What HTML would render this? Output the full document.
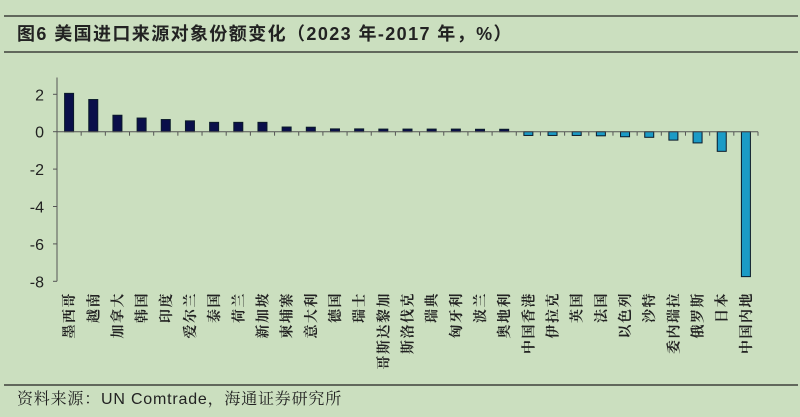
<!DOCTYPE html>
<html><head><meta charset="utf-8"><style>
html,body{margin:0;padding:0;background:#cbdfbf;}
svg{display:block;}
</style></head><body>
<svg width="800" height="417" viewBox="0 0 800 417" xmlns="http://www.w3.org/2000/svg">
<rect width="800" height="417" fill="#cbdfbf"/>
<line x1="4" y1="16" x2="798" y2="16" stroke="#222" stroke-width="1.3"/>
<text x="17" y="40" font-family="Liberation Sans, Noto Sans CJK SC, sans-serif" font-size="18" font-weight="bold" letter-spacing="1.4" fill="#222">图6  美国进口来源对象份额变化（2023 年-2017 年，%）</text>
<line x1="4" y1="52" x2="798" y2="52" stroke="#222" stroke-width="1.3"/>
<g id="plot"></g>
<line x1="4" y1="385" x2="798" y2="385" stroke="#222" stroke-width="1.3"/>
<text x="17" y="404" font-family="Liberation Sans, Noto Serif CJK SC, sans-serif" font-size="16" letter-spacing="0.8" fill="#222">资料来源：UN Comtrade，海通证券研究所</text>
</svg>
<script>
const categories = ["墨西哥","越南","加拿大","韩国","印度","爱尔兰","泰国","荷兰","新加坡","柬埔寨","意大利","德国","瑞士","哥斯达黎加","斯洛伐克","瑞典","匈牙利","波兰","奥地利","中国香港","伊拉克","英国","法国","以色列","沙特","委内瑞拉","俄罗斯","日本","中国内地"];
const values = [2.05,1.72,0.88,0.73,0.65,0.58,0.5,0.5,0.5,0.25,0.24,0.15,0.15,0.14,0.14,0.14,0.14,0.13,0.13,-0.2,-0.2,-0.2,-0.22,-0.27,-0.3,-0.45,-0.6,-1.05,-7.75];
const yTicks = [2,0,-2,-4,-6,-8];

const NS="http://www.w3.org/2000/svg";
const g=document.getElementById('plot');
const left=57, right=758, y0px=131.7, unit=18.7;
const step=(right-left)/categories.length;
const y=v=>y0px-v*unit;
const x=i=>left+step*(i+0.5);
function mk(t,a){const e=document.createElementNS(NS,t);for(const k in a)e.setAttribute(k,a[k]);g.appendChild(e);return e;}
let ax=mk('line',{x1:left,y1:y(2.9),x2:left,y2:y(-8),stroke:'#555','stroke-width':1});


yTicks.forEach(t=>{
  let tk=mk('line',{x1:left-4,y1:y(t),x2:left,y2:y(t),stroke:'#555'});
  
  
  let lb=mk('text',{x:left-13,y:y(t)+6,'text-anchor':'end','font-family':'Liberation Sans, sans-serif','font-size':16,fill:'#222'});
  lb.textContent=t;
  
  
});
values.forEach((v,i)=>{
  const top=Math.min(y(v),y(0)), h=Math.abs(y(v)-y(0));
  let r=mk('rect',{x:x(i)-4.5,y:top,width:9,height:Math.max(h,1),fill:v>=0?'#0a0f4a':'#1b9bc6',stroke:'#0a1a2a','stroke-width':1});
  
  
});
let xa=mk('line',{x1:left,y1:y(0),x2:right,y2:y(0),stroke:'#555','stroke-width':1});


for(let i=0;i<=categories.length;i++){
  let tk=mk('line',{x1:left+step*i,y1:y(0),x2:left+step*i,y2:y(0)+4,stroke:'#555'});
  
  
}
categories.forEach((c,i)=>{
  const tx=x(i)+5, ty=292;
  let lb=mk('text',{x:tx,y:ty,transform:`rotate(-90 ${tx} ${ty})`,'text-anchor':'end','font-family':'Noto Serif CJK SC, serif','font-size':14,'font-weight':'bold','letter-spacing':1.5,fill:'#222'});
  lb.textContent=c;
  
  
});
</script>
</body></html>
